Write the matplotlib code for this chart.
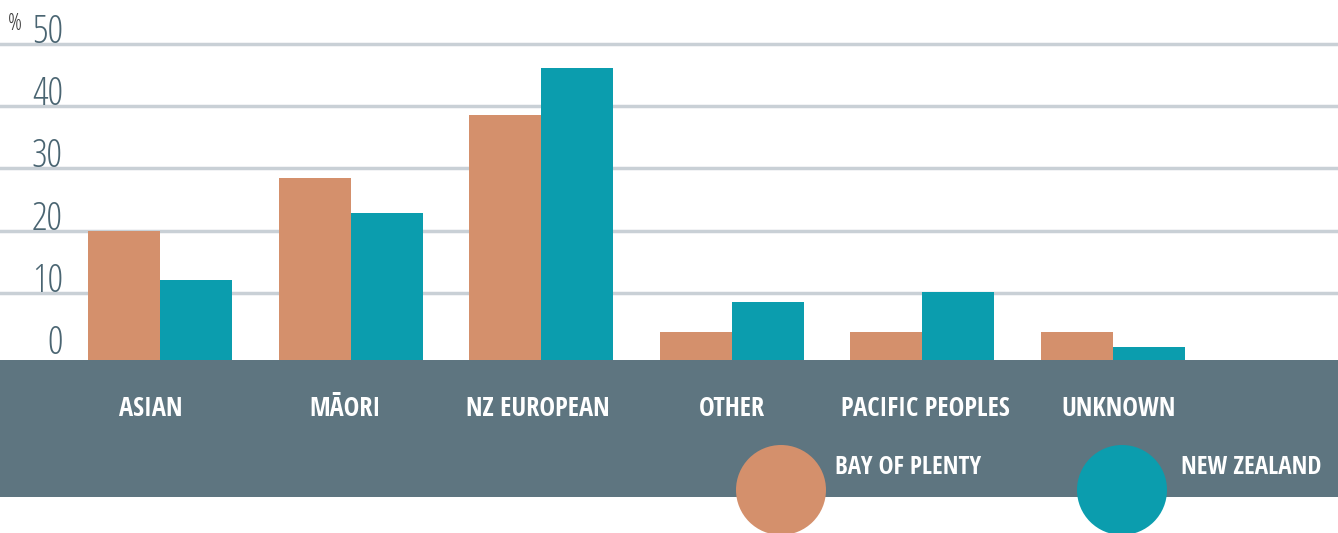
import os
import numpy as np
import matplotlib
matplotlib.use("Agg")
import matplotlib.pyplot as plt
from matplotlib.patches import Rectangle, Ellipse
from matplotlib import font_manager

categories = ["ASIAN", "MĀORI", "NZ EUROPEAN", "OTHER", "PACIFIC PEOPLES", "UNKNOWN"]
bay_of_plenty = [20.0, 28.5, 38.6, 3.7, 3.7, 3.7]
new_zealand = [12.0, 22.8, 46.2, 8.5, 10.1, 1.3]
yticks = [0, 10, 20, 30, 40, 50]
series_names = ["BAY OF PLENTY", "NEW ZEALAND"]

ORANGE = "#D4906C"
TEAL = "#0B9DAE"
SLATE = "#5E7580"
GRID = "#C9D0D6"
TICK = "#4A6572"


def open_sans_cond(face, size):
    # Open Sans Condensed ships as separate files (CondBold / CondLight)
    for f in font_manager.fontManager.ttflist:
        if os.path.basename(f.fname) == f"OpenSans-Cond{face}.ttf":
            return font_manager.FontProperties(fname=f.fname, size=size)
    return font_manager.FontProperties(family="Open Sans", size=size * 0.85,
                                       weight="bold" if face == "Bold" else "light")


f_tick = open_sans_cond("Light", 28)
f_pct = open_sans_cond("Light", 17)
f_lab = open_sans_cond("Bold", 19)
f_leg = open_sans_cond("Bold", 18)

W, H = 1338, 533
fig = plt.figure(figsize=(W / 100, H / 100), dpi=100)

# pixel-space background layer: slate band, category names and legend
bg = fig.add_axes([0, 0, 1, 1], zorder=0)
bg.set_xlim(0, W)
bg.set_ylim(H, 0)
bg.axis("off")
bg.add_patch(Rectangle((0, 360), W, 137, color=SLATE, lw=0))
bg.add_patch(Ellipse((781, 490), 90, 90, color=ORANGE, lw=0))
bg.add_patch(Ellipse((1122, 490), 90, 90, color=TEAL, lw=0))
bg.text(835, 468, series_names[0], color="white", fontproperties=f_leg,
        va="center", ha="left")
bg.text(1181, 468, series_names[1], color="white", fontproperties=f_leg,
        va="center", ha="left")
for i, c in enumerate(categories):
    bg.text(151 + 193.6 * i, 409, c, ha="center", va="center",
            color="white", fontproperties=f_lab)

# bars
ax = fig.add_axes([0, (H - 360) / H, 1, 360 / H], zorder=1)
ax.patch.set_alpha(0)
ymin, ymax = -0.84, 57.1
ax.set_ylim(ymin, ymax)
ax.set_xlim(-0.839, 6.18)
x = np.arange(len(categories))
w = 0.378
ax.bar(x - w / 2, np.array(bay_of_plenty) - ymin, w, bottom=ymin, color=ORANGE, lw=0, zorder=2)
ax.bar(x + w / 2, np.array(new_zealand) - ymin, w, bottom=ymin, color=TEAL, lw=0, zorder=2)

for t in yticks[1:]:
    ax.axhline(t, color=GRID, lw=2.5, zorder=1)
for t in yticks:
    ax.annotate(str(t), (0, t), xycoords=("axes fraction", "data"),
                xytext=(63, 1), textcoords="offset pixels",
                ha="right", va="baseline", color=TICK, fontproperties=f_tick)
ax.annotate("%", (0, 50), xycoords=("axes fraction", "data"),
            xytext=(8, 14), textcoords="offset pixels",
            ha="left", va="baseline", color="#3A3A3A", fontproperties=f_pct)
ax.axis("off")

fig.savefig("out.png", dpi=100)
